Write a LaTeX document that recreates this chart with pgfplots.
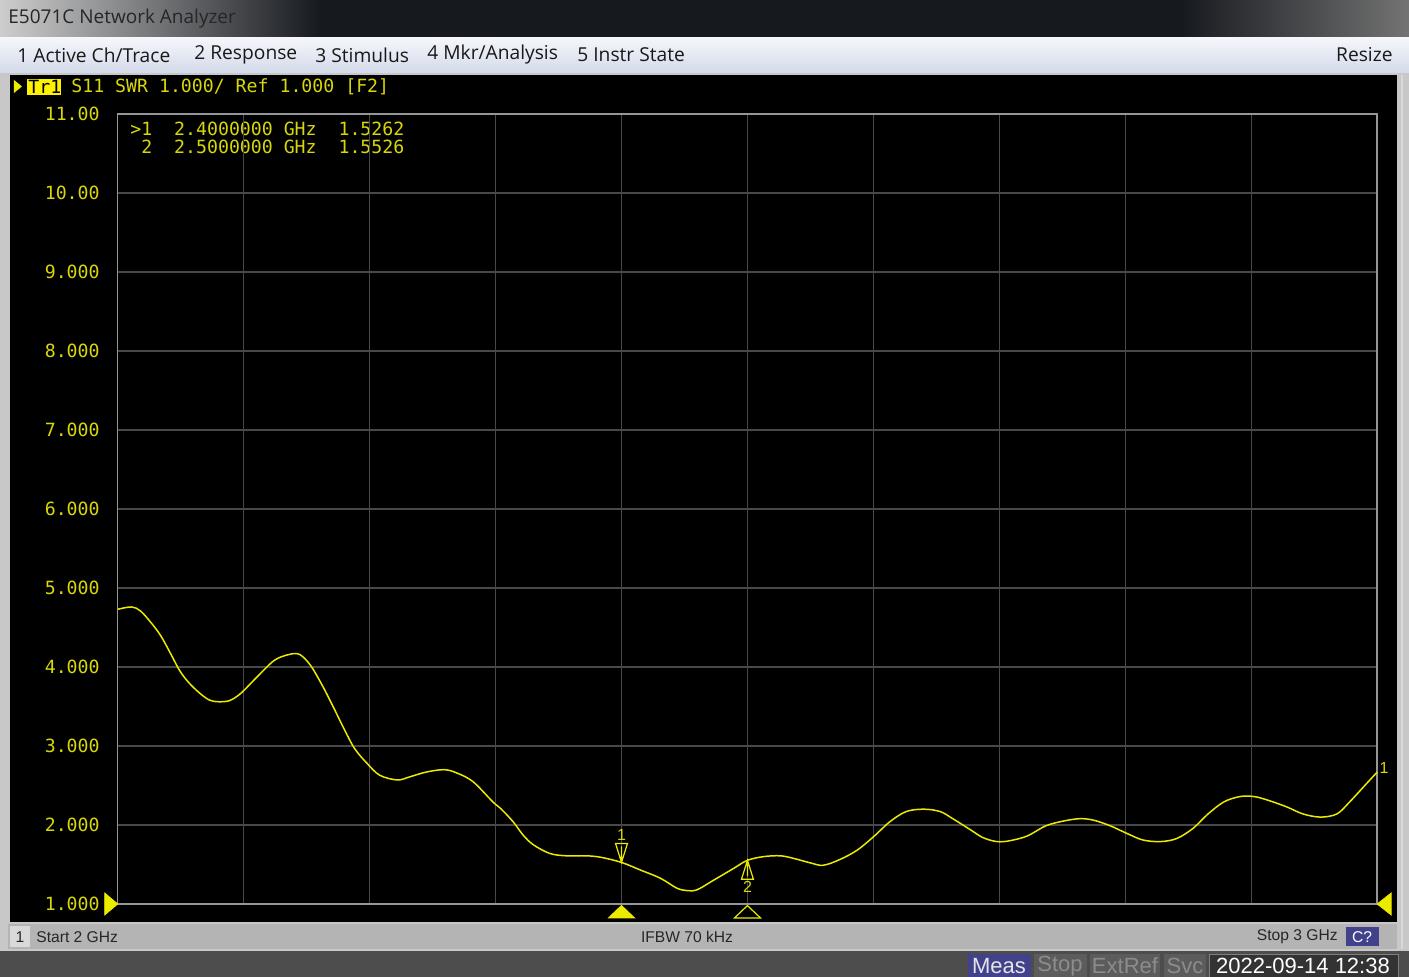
\documentclass[border=0pt]{standalone}
\usepackage{fontspec}
\setmainfont{Open Sans}
\newfontfamily\uifont{Open Sans}
\newfontfamily\statfont{Liberation Sans}
\newfontfamily\monofont{DejaVu Sans Mono}
\usepackage{pgfplots}
\pgfplotsset{compat=1.18}

\definecolor{trace}{RGB}{235,235,0}
\definecolor{labyel}{RGB}{215,215,10}
\definecolor{gridgray}{RGB}{72,72,72}
\definecolor{framegray}{RGB}{150,150,150}
\definecolor{titledark}{RGB}{22,25,30}
\definecolor{titlelight}{RGB}{205,205,205}
\definecolor{titleright}{RGB}{115,115,115}
\definecolor{menutop}{RGB}{244,246,251}
\definecolor{menubot}{RGB}{212,218,233}
\definecolor{edge}{RGB}{200,200,200}
\definecolor{statgray}{RGB}{180,180,180}
\definecolor{botgray}{RGB}{77,77,77}
\definecolor{btnblue}{RGB}{66,66,140}
\definecolor{btngray}{RGB}{92,92,92}
\definecolor{btntext}{RGB}{140,140,140}

% marker glyphs, tip at the data point
\pgfdeclareplotmark{mkdn}{%
  \pgfpathmoveto{\pgfqpoint{0pt}{0pt}}%
  \pgfpathlineto{\pgfqpoint{-3pt}{9.5pt}}%
  \pgfpathlineto{\pgfqpoint{3pt}{9.5pt}}%
  \pgfpathclose
  \pgfpathmoveto{\pgfqpoint{0pt}{1.5pt}}%
  \pgfpathlineto{\pgfqpoint{0pt}{8pt}}%
  \pgfusepathqstroke}
\pgfdeclareplotmark{mkup}{%
  \pgfpathmoveto{\pgfqpoint{0pt}{0pt}}%
  \pgfpathlineto{\pgfqpoint{-3pt}{-9.5pt}}%
  \pgfpathlineto{\pgfqpoint{3pt}{-9.5pt}}%
  \pgfpathclose
  \pgfpathmoveto{\pgfqpoint{0pt}{-1.5pt}}%
  \pgfpathlineto{\pgfqpoint{0pt}{-8pt}}%
  \pgfusepathqstroke}
\pgfdeclareplotmark{stimfill}{%
  \pgfpathmoveto{\pgfqpoint{0pt}{-0.8pt}}%
  \pgfpathlineto{\pgfqpoint{-6.5pt}{-7pt}}%
  \pgfpathlineto{\pgfqpoint{6.5pt}{-7pt}}%
  \pgfpathclose
  \pgfusepathqfillstroke}
\pgfdeclareplotmark{stimopen}{%
  \pgfpathmoveto{\pgfqpoint{0pt}{-0.8pt}}%
  \pgfpathlineto{\pgfqpoint{-6.5pt}{-7pt}}%
  \pgfpathlineto{\pgfqpoint{6.5pt}{-7pt}}%
  \pgfpathclose
  \pgfusepathqstroke}
\pgfdeclareplotmark{refL}{%
  \pgfpathmoveto{\pgfqpoint{0pt}{0pt}}%
  \pgfpathlineto{\pgfqpoint{-6.5pt}{5.5pt}}%
  \pgfpathlineto{\pgfqpoint{-6.5pt}{-5.5pt}}%
  \pgfpathclose
  \pgfusepathqfillstroke}
\pgfdeclareplotmark{refR}{%
  \pgfpathmoveto{\pgfqpoint{0pt}{0pt}}%
  \pgfpathlineto{\pgfqpoint{7pt}{5.5pt}}%
  \pgfpathlineto{\pgfqpoint{7pt}{-5.5pt}}%
  \pgfpathclose
  \pgfusepathqfillstroke}

\tikzset{px/.style={x=0.5pt,y=-0.5pt,shift={(-117.7,-904)}}}
\newcommand\mono{\monofont\fontsize{9.1}{10}\selectfont}
\newcommand\menu{\uifont\fontsize{9.6}{11}\selectfont}
\newcommand\stat{\statfont\fontsize{7.8}{9}\selectfont}
\newcommand\btn{\statfont\fontsize{11}{13}\selectfont}

\begin{document}
\begin{tikzpicture}
% window frame
\begin{scope}[px]
  \fill[edge] (0,0) rectangle (1409,977);
  \fill[titledark] (0,0) rectangle (1409,37);
  \shade[left color=titlelight, right color=titledark] (0,0) rectangle (320,37);
  \shade[left color=titledark, right color=titleright] (1180,0) rectangle (1409,37);
  \draw[gray] (0,37) -- (1409,37);
  \shade[top color=menutop, bottom color=menubot] (0,38) rectangle (1409,73);
  \fill[black] (10,75) rectangle (1397,922);
  \draw[white!85!black, line width=1pt] (1402,75) -- (1402,949);
  \fill[statgray] (8,924) rectangle (1397,949);
  \fill[white!85!black] (10,926) rectangle (30,947);
  \fill[botgray] (0,951) rectangle (1409,977);
  \fill[btnblue] (1346,927) rectangle (1379,946);
  \fill[btnblue] (968,954) rectangle (1031,977);
  \fill[btngray] (1034,954) rectangle (1087,977);
  \fill[btngray] (1090,954) rectangle (1160,977);
  \fill[btngray] (1164,954) rectangle (1206,977);
  \fill[black!80] (1209,954) rectangle (1398,977);
  \draw[gray] (1209,954) rectangle (1398,977);
  % title and menu text
  \node[anchor=west, inner sep=0pt, text=black!85] at (8,19) {\uifont\fontsize{9.5}{11}\selectfont E5071C Network Analyzer};
  \node[anchor=west, inner sep=0pt, text=black!90] at (17,55) {\menu 1 Active Ch/Trace};
  \node[anchor=west, inner sep=0pt, text=black!90] at (194,55) {\menu 2 Response};
  \node[anchor=west, inner sep=0pt, text=black!90] at (315,55) {\menu 3 Stimulus};
  \node[anchor=west, inner sep=0pt, text=black!90] at (427,55) {\menu 4 Mkr/Analysis};
  \node[anchor=west, inner sep=0pt, text=black!90] at (577,55) {\menu 5 Instr State};
  \node[anchor=east, inner sep=0pt, text=black!90] at (1393,55) {\menu Resize};
  % trace header
  \fill[trace] (14,80) -- (22,86.5) -- (14,93) -- cycle;
  \fill[yellow] (27,79) rectangle (61,95);
  \node[anchor=west, inner sep=0pt, text=black] at (28,87) {\mono Tr1};
  \node[anchor=west, inner sep=0pt, text=labyel] at (71,87) {\mono S11 SWR 1.000/ Ref 1.000 [F2]};
  % marker readout
  \node[anchor=west, inner sep=0pt, text=labyel] at (130,129) {\mono >1\ \ 2.4000000 GHz\ \ 1.5262};
  \node[anchor=west, inner sep=0pt, text=labyel] at (130,147) {\mono \ 2\ \ 2.5000000 GHz\ \ 1.5526};
  % status bar
  \node[inner sep=0pt, text=black!85] at (20,937) {\stat 1};
  \node[anchor=west, inner sep=0pt, text=black!85] at (36,937) {\stat Start 2 GHz};
  \node[inner sep=0pt, text=black!85] at (687,937) {\stat IFBW 70 kHz};
  \node[anchor=east, inner sep=0pt, text=black!85] at (1338,937) {\stat Stop 3 GHz};
  \node[inner sep=0pt, text=white] at (1362,937) {\stat C?};
  \node[inner sep=0pt, text=white!90!black] at (999,966) {\btn Meas};
  \node[inner sep=0pt, text=btntext] at (1060,966) {\btn Stop};
  \node[inner sep=0pt, text=btntext] at (1125,966) {\btn ExtRef};
  \node[inner sep=0pt, text=btntext] at (1185,966) {\btn Svc};
  \node[inner sep=0pt, text=white] at (1303,966) {\btn 2022-09-14 12:38};
\end{scope}

\begin{axis}[
  scale only axis,
  width=629.75pt, height=395pt,
  xmin=2, xmax=3, ymin=1, ymax=11,
  xtick={2,2.1,2.2,2.3,2.4,2.5,2.6,2.7,2.8,2.9,3},
  xticklabels={},
  ytick={1,2,3,4,5,6,7,8,9,10,11},
  yticklabels={1.000,2.000,3.000,4.000,5.000,6.000,7.000,8.000,9.000,10.00,11.00},
  major tick length=0pt,
  grid=major,
  grid style={gridgray, line width=0.6pt},
  axis line style={framegray, line width=0.8pt},
  yticklabel style={font=\mono, text=labyel, inner sep=0pt, anchor=east, xshift=-8.85pt},
  clip=false,
]
% S11 SWR trace
\addplot[trace, line width=0.75pt, smooth, tension=0.55] coordinates {
(2.000,4.73) (2.011,4.76) (2.018,4.71) (2.026,4.57) (2.034,4.40) (2.042,4.17)
(2.049,3.96) (2.056,3.81) (2.065,3.67) (2.073,3.58) (2.080,3.56) (2.088,3.57)
(2.094,3.62) (2.100,3.70) (2.111,3.88) (2.124,4.08) (2.134,4.15) (2.142,4.17)
(2.147,4.13) (2.154,4.00) (2.163,3.75) (2.171,3.50) (2.179,3.24) (2.188,2.97)
(2.198,2.78) (2.208,2.63) (2.222,2.57) (2.232,2.61) (2.245,2.67) (2.259,2.70)
(2.269,2.66) (2.282,2.55) (2.298,2.29) (2.304,2.21) (2.314,2.04) (2.322,1.87)
(2.330,1.75) (2.343,1.64) (2.356,1.61) (2.372,1.61) (2.384,1.59) (2.400,1.526)
(2.415,1.43) (2.431,1.325) (2.444,1.20) (2.452,1.17) (2.460,1.18) (2.473,1.30)
(2.489,1.45) (2.500,1.553) (2.513,1.60) (2.526,1.61) (2.536,1.58) (2.550,1.52)
(2.560,1.49) (2.573,1.56) (2.587,1.68) (2.600,1.85) (2.613,2.04) (2.626,2.17)
(2.640,2.20) (2.653,2.17) (2.663,2.08) (2.677,1.94) (2.687,1.84) (2.698,1.79)
(2.708,1.80) (2.722,1.86) (2.737,1.99) (2.751,2.05) (2.764,2.08) (2.775,2.06)
(2.788,1.99) (2.801,1.895) (2.814,1.81) (2.828,1.79) (2.841,1.83) (2.854,1.96)
(2.865,2.13) (2.878,2.29) (2.891,2.36) (2.902,2.36) (2.912,2.32) (2.928,2.23)
(2.941,2.14) (2.955,2.10) (2.968,2.14) (2.978,2.29) (2.989,2.48) (3.000,2.67)
};
% end-of-trace channel label
\addplot[only marks, mark=none, nodes near coords={1},
  nodes near coords style={anchor=west, inner sep=0pt, xshift=1pt, yshift=2pt,
  text=labyel, font=\statfont\fontsize{8}{9}\selectfont}] coordinates {(3.000,2.67)};
% marker 1 (active) on trace
\addplot[only marks, mark=mkdn, draw=trace, line width=0.6pt,
  nodes near coords={1},
  nodes near coords style={anchor=center, inner sep=0pt, yshift=13.5pt,
  text=labyel, font=\statfont\fontsize{8}{9}\selectfont}] coordinates {(2.400,1.5262)};
% marker 2 on trace
\addplot[only marks, mark=mkup, draw=trace, line width=0.6pt,
  nodes near coords={2},
  nodes near coords style={anchor=center, inner sep=0pt, yshift=-13.5pt,
  text=labyel, font=\statfont\fontsize{8}{9}\selectfont}] coordinates {(2.500,1.5526)};
% stimulus markers under the grid
\addplot[only marks, mark=stimfill, draw=trace, fill=trace, line width=0.5pt] coordinates {(2.400,1)};
\addplot[only marks, mark=stimopen, draw=trace, line width=0.6pt] coordinates {(2.500,1)};
% reference level arrows
\addplot[only marks, mark=refL, draw=trace, fill=trace] coordinates {(2.000,1)};
\addplot[only marks, mark=refR, draw=trace, fill=trace] coordinates {(3.000,1)};
\end{axis}
\pgfresetboundingbox
\path[px] (0,0) rectangle (1409,977);
\end{tikzpicture}
\end{document}
